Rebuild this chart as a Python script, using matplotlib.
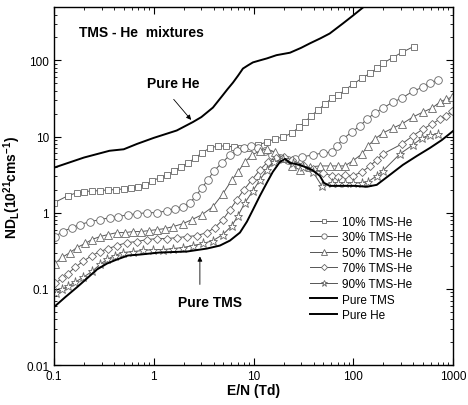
"""Longitudinal diffusion ND_L vs E/N for TMS-He mixtures (log-log)."""

import matplotlib

matplotlib.use("Agg")
import matplotlib.pyplot as plt

plt.rcParams["font.family"] = ["Liberation Sans", "DejaVu Sans"]
plt.rcParams["mathtext.fontset"] = "custom"
plt.rcParams["mathtext.rm"] = "Liberation Sans"
plt.rcParams["mathtext.bf"] = "Liberation Sans:bold"
plt.rcParams["mathtext.default"] = "bf"

# 10% TMS-He (squares)
en_10 = [0.1, 0.138, 0.17, 0.2, 0.24, 0.289, 0.348, 0.418, 0.502, 0.59, 0.695, 0.816,
         0.96, 1.15, 1.36, 1.59, 1.87, 2.2, 2.59, 3.04, 3.66, 4.4, 5.28, 6.36, 7.48, 8.79,
         11.1, 13.6, 16.4, 19.7, 24.3, 28.5, 32.7, 37.6, 44.2, 51.9, 61, 70, 82, 99, 122,
         147, 172, 198, 249, 307, 404]
nd_10 = [1.35, 1.67, 1.83, 1.88, 1.94, 1.94, 2.0, 2.0, 2.06, 2.12, 2.19, 2.32,
         2.62, 2.87, 3.14, 3.54, 4.0, 4.5, 5.2, 6.1, 7.1, 7.5, 7.5, 7.3, 7.1, 7.1,
         7.74, 8.5, 9.3, 9.85, 11.1, 13.3, 15.5, 18.5, 22.2, 26.6, 31.9, 34.9, 40.5, 48.5, 58.2,
         67.6, 78.5, 91.3, 109, 127, 152]

# 30% TMS-He (circles)
en_30 = [0.102, 0.123, 0.151, 0.182, 0.23, 0.289, 0.364, 0.438, 0.551, 0.679, 0.855, 1.08,
         1.36, 1.63, 1.96, 2.31, 2.65, 3.04, 3.49, 4.01, 4.82, 5.8, 6.82, 8.0, 9.4, 11.1,
         13.0, 15.3, 18.4, 22.1, 26.0, 30.5, 39.4, 49.5, 61, 68.5, 78.7, 96.8, 116, 137,
         164, 198, 249, 307, 395, 498, 586, 705]
nd_30 = [0.486, 0.565, 0.637, 0.697, 0.763, 0.81, 0.86, 0.887, 0.94, 0.97, 1.0, 1.0,
         1.06, 1.13, 1.2, 1.35, 1.67, 2.12, 2.7, 3.54, 4.5, 5.73, 6.46, 7.07, 7.5, 7.07,
         6.46, 5.73, 5.24, 4.93, 5.08, 5.4, 5.73, 6.09, 6.27, 7.5, 9.27, 11.5, 13.7, 16.9,
         20.3, 23.6, 28.3, 31.9, 39.3, 44.4, 50.1, 54.8]

# 50% TMS-He (triangles)
en_50 = [0.102, 0.12, 0.145, 0.17, 0.205, 0.24, 0.289, 0.348, 0.428, 0.514, 0.619, 0.745,
         0.895, 1.08, 1.29, 1.56, 1.96, 2.41, 3.04, 3.92, 4.93, 6.08, 6.98, 8.2, 9.64, 11.6,
         13.6, 16.4, 19.7, 24.3, 29.2, 36.7, 46.2, 58, 70, 82, 99, 122, 140, 164, 198, 249,
         307, 395, 498, 614, 738, 847, 973]
nd_50 = [0.215, 0.258, 0.30, 0.349, 0.394, 0.444, 0.486, 0.516, 0.548, 0.548, 0.565, 0.565,
         0.582, 0.6, 0.618, 0.656, 0.718, 0.81, 0.94, 1.2, 1.77, 2.7, 3.43, 4.64, 5.73, 6.46,
         6.86, 6.27, 5.24, 4.11, 3.65, 3.99, 4.11, 4.11, 4.11, 4.11, 4.79, 5.9, 7.5, 9.27, 11.1,
         12.9, 14.6, 18.0, 20.9, 23.6, 28.3, 30.9, 32.8]

# 70% TMS-He (diamonds)
en_70 = [0.102, 0.12, 0.138, 0.162, 0.195, 0.24, 0.289, 0.348, 0.428, 0.538, 0.679, 0.855,
         1.08, 1.36, 1.71, 2.15, 2.71, 3.41, 4.1, 4.93, 5.8, 6.82, 8.0, 9.64, 11.6, 13.9,
         16.8, 20.2, 24.3, 31.3, 39.4, 49.5, 61, 70, 82, 99, 122, 147, 172, 198, 307, 395,
         498, 614, 738, 847, 973]
nd_70 = [0.118, 0.137, 0.159, 0.191, 0.229, 0.274, 0.309, 0.338, 0.37, 0.405, 0.418, 0.444,
         0.457, 0.457, 0.471, 0.486, 0.5, 0.548, 0.637, 0.81, 1.09, 1.48, 2.0, 2.7, 3.65, 4.64,
         5.24, 5.4, 4.93, 4.24, 3.76, 3.33, 3.05, 2.96, 3.14, 3.05, 3.43, 4.11, 4.93, 5.9, 7.98,
         10.2, 12.5, 14.6, 16.9, 18.5, 21.5]

# 90% TMS-He (stars)
en_90 = [0.105, 0.12, 0.138, 0.162, 0.195, 0.24, 0.289, 0.34, 0.408, 0.491, 0.619, 0.78,
         0.982, 1.24, 1.56, 1.96, 2.47, 3.11, 3.92, 4.93, 6.08, 6.98, 8.2, 9.86, 11.6, 13.6,
         16.0, 19.7, 24.8, 31.3, 39.4, 48.4, 61, 70, 82, 99, 122, 140, 172, 198, 293, 395,
         487, 586, 705]
nd_90 = [0.0873, 0.0985, 0.108, 0.122, 0.141, 0.169, 0.209, 0.243, 0.274, 0.30, 0.309, 0.319,
         0.328, 0.328, 0.338, 0.349, 0.37, 0.394, 0.43, 0.516, 0.676, 0.914, 1.35, 1.94, 2.7, 3.65,
         4.64, 5.08, 4.5, 3.99, 3.43, 2.25, 2.47, 2.47, 2.47, 2.47, 2.47, 2.54, 3.05, 3.54, 5.9,
         7.74, 9.55, 10.5, 10.8]

# Pure TMS
en_tms = [0.102, 0.129, 0.17, 0.214, 0.27, 0.34, 0.428, 0.551, 0.728, 1.15, 2.15, 3.41,
          4.6, 5.8, 7.31, 8.59, 9.86, 11.6, 13.6, 15.6, 18.4, 20.7, 23.2, 29.2, 38.5, 46.2,
          50.7, 58, 78.7, 104, 137, 172, 233, 314, 434, 586, 773, 1000]
nd_tms = [0.059, 0.0774, 0.105, 0.137, 0.18, 0.215, 0.243, 0.274, 0.282, 0.30, 0.309, 0.338,
          0.37, 0.43, 0.548, 0.763, 1.09, 1.67, 2.47, 3.43, 4.64, 5.08, 4.5, 4.24, 3.65, 3.05,
          2.47, 2.25, 2.25, 2.25, 2.19, 2.32, 3.14, 4.24, 5.56, 7.07, 9.0, 11.8]

# Pure He
en_he = [0.1, 0.2, 0.36, 0.5, 0.68, 1.0, 1.7, 2.47, 3.0, 3.92, 4.93, 5.5, 6.22, 7.0,
         7.83, 8.8, 9.86, 11.6, 13.6, 17, 23.2, 30, 36.7, 47, 58, 78.7, 100, 125]
nd_he = [3.9, 5.3, 6.5, 6.8, 8.0, 9.6, 12, 15.5, 18, 24, 35, 42, 51, 63,
         78, 86, 94, 100, 106, 117, 126, 146, 167, 195, 225, 305, 390, 494]

mix_series = [
    (en_10, nd_10, "s", "10% TMS-He"),
    (en_30, nd_30, "o", "30% TMS-He"),
    (en_50, nd_50, "^", "50% TMS-He"),
    (en_70, nd_70, "D", "70% TMS-He"),
    (en_90, nd_90, "*", "90% TMS-He"),
]
msize = {"s": 5, "o": 5.5, "^": 5.5, "D": 4.5, "*": 6.5}

fig = plt.figure(figsize=(4.68, 4.06), dpi=100)
ax = fig.add_axes([0.1154, 0.0985, 0.8526, 0.8815])

gray = "#555555"
for x, y, m, lab in mix_series:
    ax.plot(x, y, color=gray, lw=0.7, marker=m, ms=msize[m], mfc="white",
            mec="#666666", mew=0.6, label=lab)
ax.plot(en_tms, nd_tms, color="black", lw=1.4, label="Pure TMS")
ax.plot(en_he, nd_he, color="black", lw=1.4, label="Pure He")

ax.set_xscale("log")
ax.set_yscale("log")
ax.set_xlim(0.1, 1000)
ax.set_ylim(0.01, 500)
ax.set_xticks([0.1, 1, 10, 100, 1000])
ax.set_xticklabels(["0.1", "1", "10", "100", "1000"])
ax.set_yticks([0.01, 0.1, 1, 10, 100])
ax.set_yticklabels(["0.01", "0.1", "1", "10", "100"])
ax.tick_params(which="both", direction="in", top=True, right=True, labelsize=8.5)
ax.tick_params(which="major", length=5, width=0.8)
ax.tick_params(which="minor", length=2.5, width=0.6)
for s in ax.spines.values():
    s.set_linewidth(1.0)

ax.set_xlabel("E/N (Td)", fontsize=10, fontweight="bold", labelpad=1)
ax.set_ylabel(r"ND$_{L}$(10$^{21}$cms$^{-1}$)", fontsize=10, fontweight="bold", labelpad=2)

ax.text(0.063, 0.930, "TMS - He  mixtures", transform=ax.transAxes, fontsize=10,
        fontweight="bold", ha="left", va="center")

ax.text(1.56, 50, "Pure He", fontsize=10, fontweight="bold", ha="center", va="center")
ax.annotate("", xy=(2.47, 15.5), xytext=(1.52, 32.8),
            arrowprops=dict(arrowstyle="-|>", color="black", lw=0.6, mutation_scale=7))
ax.text(3.66, 0.0667, "Pure TMS", fontsize=10, fontweight="bold", ha="center", va="center")
ax.annotate("", xy=(2.9, 0.29), xytext=(2.9, 0.105),
            arrowprops=dict(arrowstyle="-|>", color="black", lw=0.6, mutation_scale=7))

handles, labels = ax.get_legend_handles_labels()
ax.legend(handles, labels, loc="upper left", bbox_to_anchor=(0.63, 0.43), frameon=False,
          fontsize=8.5, handlelength=2.3, handletextpad=0.4, labelspacing=0.3,
          borderaxespad=0, markerscale=0.7)

fig.savefig("out.png", dpi=100)
